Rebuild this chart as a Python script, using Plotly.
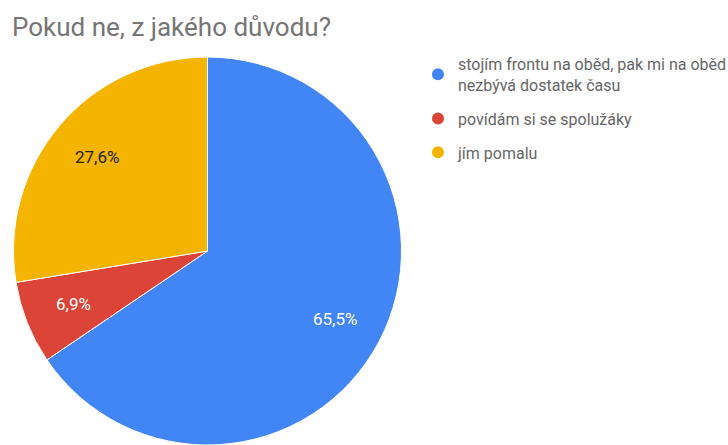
import math
import plotly.graph_objects as go

title = "Pokud ne, z jakého důvodu?"
labels = ["stojím frontu na oběd, pak mi na oběd<br>nezbývá dostatek času",
          "povídám si se spolužáky",
          "jím pomalu"]
values = [19, 2, 8]
colors = ["#4285F4", "#DB4437", "#F4B400"]
text_colors = ["#FFFFFF", "#FFFFFF", "#222222"]

W, H = 728, 445
# pie geometry (pixels)
CX, CY, R = 207.5, 251.0, 194.0
LABEL_FRAC = 0.745

total = sum(values)
pct_text = [f"{v / total * 100:.1f}".replace(".", ",") + "%" for v in values]

fig = go.Figure()
fig.add_trace(go.Pie(
    labels=labels, values=values, text=pct_text,
    textinfo="none",
    marker=dict(colors=colors, line=dict(color="white", width=1)),
    sort=False, direction="clockwise", rotation=0,
    showlegend=False, hoverinfo="label+percent",
    domain=dict(x=[(CX - R) / W, (CX + R) / W], y=[0, (H - (CY - R)) / H]),
))
for lab, col in zip(labels, colors):
    fig.add_trace(go.Scatter(
        x=[None], y=[None], mode="markers", name=lab, legendgroup=lab,
        marker=dict(symbol="circle", size=15, color=col),
        showlegend=True,
    ))

# percentage labels placed along each slice's mid-angle
cum = 0.0
for v, t, tc in zip(values, pct_text, text_colors):
    mid = (cum + v / 2) / total * 2 * math.pi
    cum += v
    px = CX + LABEL_FRAC * R * math.sin(mid)
    py = CY - LABEL_FRAC * R * math.cos(mid)
    fig.add_annotation(x=px / W, y=1 - py / H, xref="paper", yref="paper",
                       text=t, showarrow=False, xanchor="center", yanchor="middle",
                       font=dict(family="Roboto", size=17, color=tc))

fig.update_layout(
    width=W, height=H,
    margin=dict(l=0, r=0, t=0, b=0, autoexpand=False),
    paper_bgcolor="white", plot_bgcolor="white",
    title=dict(text=title, x=12 / W, xanchor="left", y=1 - 27 / H, yanchor="middle",
               font=dict(family="Roboto", size=26, color="#757575")),
    xaxis=dict(visible=False), yaxis=dict(visible=False),
    legend=dict(x=418 / W, xanchor="left", y=1 - 47 / H, yanchor="top",
                xref="container", yref="container",
                font=dict(family="Roboto", size=16, color="#666666"),
                tracegroupgap=10, itemsizing="constant", bgcolor="rgba(0,0,0,0)"),
)
fig.write_html("out.html", config={"displayModeBar": False},
               post_script="document.body.style.margin='0';document.body.style.overflow='hidden';")
